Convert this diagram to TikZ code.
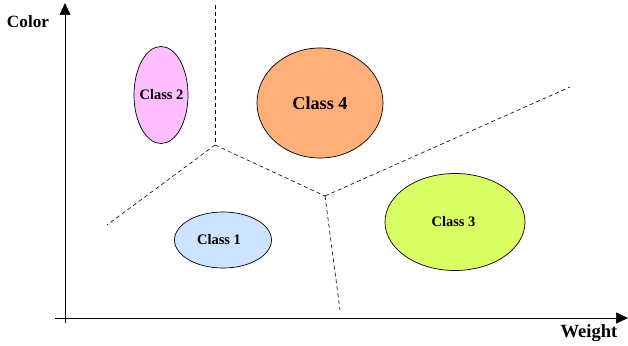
\documentclass[tikz,border=0pt]{standalone}
\usepackage{fontspec}
\setmainfont{Liberation Serif}
\usetikzlibrary{arrows.meta,shapes.geometric}
\definecolor{cpink}{RGB}{255,190,255}
\definecolor{corange}{RGB}{255,176,122}
\definecolor{cblue}{RGB}{204,228,255}
\definecolor{cgreen}{RGB}{218,255,100}
% zero-width box so the ellipse size comes only from minimum width/height
\newcommand{\clstext}[2][0pt]{\makebox[0pt]{\hspace*{#1}#2}}
\begin{document}
\begin{tikzpicture}[x=1pt,y=-1pt,
  cls/.style={ellipse,draw=black,line width=0.7pt,inner sep=0pt,font=\bfseries\fontsize{14.5}{16}\selectfont},
  axis/.style={line width=0.7pt,-{Triangle[length=12pt,width=11pt]}},
  bound/.style={dashed,line width=0.6pt,dash pattern=on 4pt off 3pt},
  lbl/.style={font=\bfseries\fontsize{18}{20}\selectfont}]
\useasboundingbox (0,0) rectangle (628,345);
% axes
\coordinate (xs) at (55,318);
\coordinate (xe) at (628,318);
\coordinate (ys) at (65,323);
\coordinate (ye) at (65,3);
\draw[axis] (xs) -- (xe);
\draw[axis] (ys) -- (ye);
\node[lbl,font=\bfseries\fontsize{17.2}{19}\selectfont] (ylab) at (28,22) {Color};
\node[lbl,font=\bfseries\fontsize{18.6}{20}\selectfont] (xlab) at (589,333) {Weight};
% class regions
\node[cls,fill=cpink,minimum width=54pt,minimum height=97pt] (c2) at (161,95) {\clstext[1pt]{Class 2}};
\node[cls,fill=corange,minimum width=126pt,minimum height=110pt,font=\bfseries\fontsize{18.2}{20}\selectfont] (c4) at (320,103) {\clstext{Class 4}};
\node[cls,fill=cblue,minimum width=97pt,minimum height=56pt] (c1) at (223,240) {\clstext[-8pt]{Class 1}};
\node[cls,fill=cgreen,minimum width=140pt,minimum height=97pt] (c3) at (455,222) {\clstext[-3pt]{Class 3}};
% decision boundaries
\coordinate (p) at (215,145);
\coordinate (q) at (325,196);
\coordinate (ptop) at (215,5);
\coordinate (pleft) at (107,225);
\coordinate (qright) at (570,87);
\coordinate (qbot) at (340,310);
\draw[bound] (ptop) -- (p);
\draw[bound] (p) -- (pleft);
\draw[bound] (p) -- (q);
\draw[bound] (q) -- (qright);
\draw[bound] (q) -- (qbot);
\end{tikzpicture}
\end{document}
